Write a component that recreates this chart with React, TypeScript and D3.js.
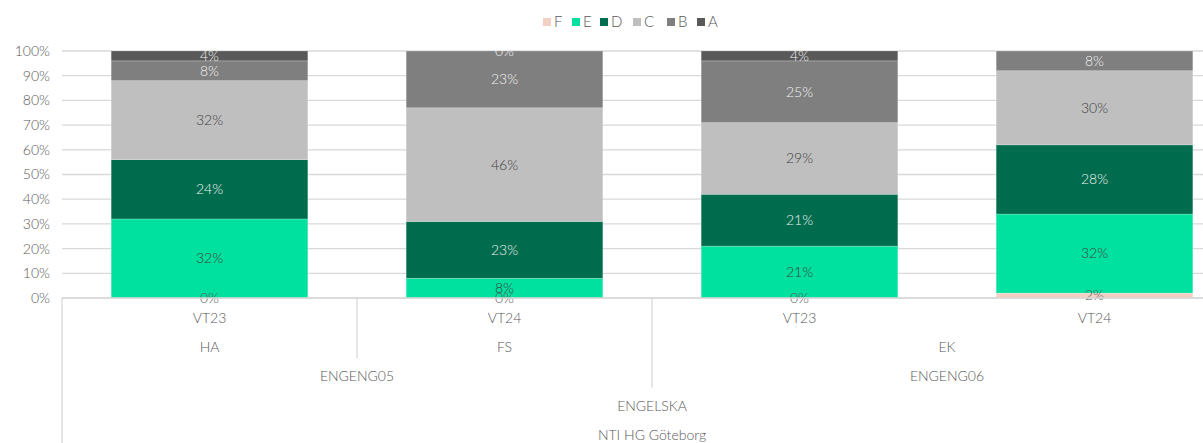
import { useEffect } from "react";
import { scaleBand, scaleLinear, stack } from "d3";

// category levels, innermost first
const periods = ["VT23", "VT24", "VT23", "VT24"];
const teachers = ["HA", "FS", "EK", "EK"];
const courses = ["ENGENG05", "ENGENG05", "ENGENG06", "ENGENG06"];
const subjects = ["ENGELSKA", "ENGELSKA", "ENGELSKA", "ENGELSKA"];
const schools = ["NTI HG Göteborg", "NTI HG Göteborg", "NTI HG Göteborg", "NTI HG Göteborg"];

// grade shares in percent, bottom to top
const grades = ["F", "E", "D", "C", "B", "A"];
const gradeF = [0, 0, 0, 2];
const gradeE = [32, 8, 21, 32];
const gradeD = [24, 23, 21, 28];
const gradeC = [32, 46, 29, 30];
const gradeB = [8, 23, 25, 8];
const gradeA = [4, 0, 4, null];

const yTicks = [0, 10, 20, 30, 40, 50, 60, 70, 80, 90, 100];

const colors = {
  F: "#f4d0c4",
  E: "#00e09e",
  D: "#006c4e",
  C: "#bfbfbf",
  B: "#7f7f7f",
  A: "#595959",
};
const labelColors = {
  F: "#595959",
  E: "#404040",
  D: "#f2f2f2",
  C: "#404040",
  B: "#f2f2f2",
  A: "#f2f2f2",
};

const W = 1203;
const H = 443;
const FONT = "Lato, 'Century Gothic', sans-serif";
const GREY = "#595959";
const GRID = "#d9d9d9";

const levels = [periods, teachers, courses, subjects, schools];

// consecutive runs of equal labels
function runs(labels) {
  const out = [];
  labels.forEach((l, i) => {
    const last = out[out.length - 1];
    if (last && last.label === l) last.end = i;
    else out.push({ label: l, start: i, end: i });
  });
  return out;
}

export default function App() {
  useEffect(() => {
    document.body.style.margin = "0";
  }, []);

  const table = periods.map((_, i) => ({
    F: gradeF[i],
    E: gradeE[i],
    D: gradeD[i],
    C: gradeC[i],
    B: gradeB[i],
    A: gradeA[i] ?? 0,
  }));
  const series = stack().keys(grades)(table);
  const rawValues = { F: gradeF, E: gradeE, D: gradeD, C: gradeC, B: gradeB, A: gradeA };

  const left = 62;
  const step = 295;
  const x = scaleBand()
    .domain(periods.map((_, i) => i))
    .range([left, left + step * periods.length])
    .paddingInner(1 / 3)
    .paddingOuter(1 / 6);
  const cat = scaleBand()
    .domain(periods.map((_, i) => i))
    .range([left, left + step * periods.length]);
  const y = scaleLinear().domain([0, 100]).range([298, 51]);
  const rowY = scaleLinear().domain([0, 4]).range([318, 435]);

  // separator lines: a boundary goes as deep as the highest level that changes there
  const separators = [];
  for (let i = 1; i < periods.length; i++) {
    let depth = 0;
    for (let l = 1; l < levels.length; l++) {
      if (levels[l][i] !== levels[l][i - 1]) depth = l;
    }
    if (depth > 0) separators.push({ x: cat(i), depth });
  }

  const legendX = [543, 572, 600, 633, 667, 697];

  return (
    <svg width={W} height={H} style={{ display: "block", fontFamily: FONT, fontWeight: 300 }}>
      <defs>
        <clipPath id="plotClip">
          <rect x={0} y={50} width={W} height={H} />
        </clipPath>
      </defs>
      <rect width={W} height={H} fill="#fff" />

      {/* legend */}
      <g fontSize={15} fill={GREY}>
        {grades.map((g, i) => (
          <g key={g} transform={`translate(${legendX[i]},22)`}>
            <rect x={0} y={-4} width={8} height={8} fill={colors[g]} />
            <text x={11} dy="0.35em">{g}</text>
          </g>
        ))}
      </g>

      {/* gridlines + y axis */}
      {yTicks.map((t) => (
        <g key={t}>
          <line x1={left} x2={W} y1={y(t)} y2={y(t)} stroke={GRID} strokeWidth={1.3} />
          <text x={50} y={y(t)} dy="0.35em" textAnchor="end" fontSize={14} fill={GREY}>
            {t}%
          </text>
        </g>
      ))}

      {/* bars */}
      {series.map((s) => (
        <g key={s.key} fill={colors[s.key]}>
          {s.map((d, i) => (
            <rect
              key={i}
              x={x(i)}
              y={y(d[1])}
              width={x.bandwidth()}
              height={y(d[0]) - y(d[1])}
              stroke="#ffffff"
              strokeOpacity={0.35}
              strokeWidth={0.6}
            />
          ))}
        </g>
      ))}

      {/* data labels */}
      <g clipPath="url(#plotClip)" fontSize={14} textAnchor="middle">
        {series.map((s) =>
          s.map((d, i) =>
            rawValues[s.key][i] == null ? null : (
              <text
                key={s.key + i}
                x={x(i) + x.bandwidth() / 2}
                y={y((d[0] + d[1]) / 2)}
                dy="0.35em"
                fill={labelColors[s.key]}
              >
                {rawValues[s.key][i]}%
              </text>
            )
          )
        )}
      </g>

      {/* multi-level category axis */}
      <line x1={left} x2={W} y1={y(0)} y2={y(0)} stroke={GRID} strokeWidth={1.3} />
      <line x1={left} x2={left} y1={y(0)} y2={H} stroke={GRID} strokeWidth={1.3} />
      {separators.map((s, i) => (
        <line
          key={i}
          x1={s.x}
          x2={s.x}
          y1={y(0)}
          y2={rowY(s.depth) + 11}
          stroke={GRID}
          strokeWidth={1.3}
        />
      ))}
      <g fontSize={14} fill={GREY} textAnchor="middle">
        {levels.map((lvl, l) =>
          runs(lvl).map((r) => (
            <text
              key={l + "-" + r.start}
              x={(cat(r.start) + cat(r.end) + cat.bandwidth()) / 2}
              y={rowY(l)}
              dy="0.35em"
            >
              {r.label}
            </text>
          ))
        )}
      </g>
    </svg>
  );
}
